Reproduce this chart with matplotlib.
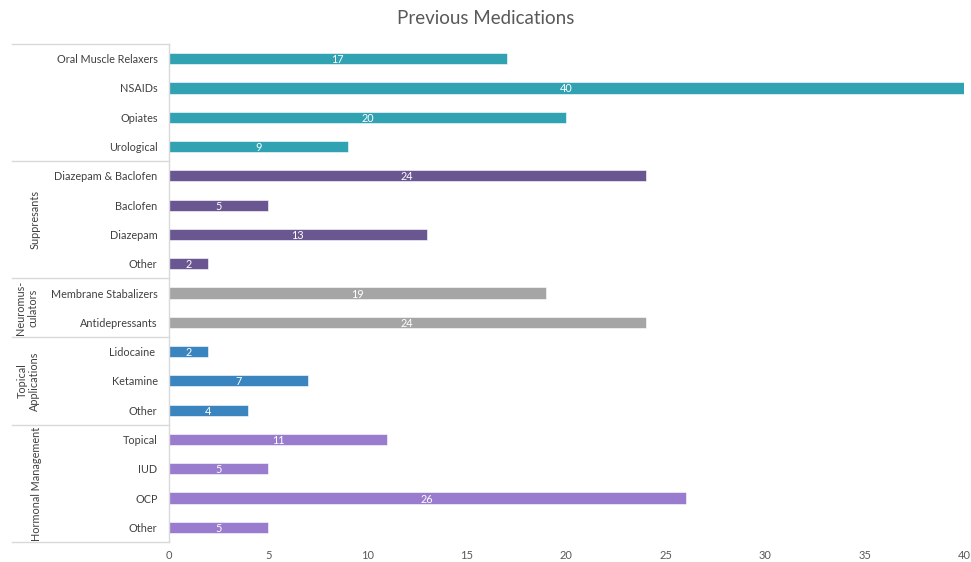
import matplotlib
matplotlib.use("Agg")
import matplotlib.pyplot as plt
import matplotlib.transforms as mtransforms

plt.rcParams['font.family'] = ['Lato', 'DejaVu Sans']

# ---- data ----
categories = ["Oral Muscle Relaxers", "NSAIDs", "Opiates", "Urological",
              "Diazepam & Baclofen", "Baclofen", "Diazepam", "Other",
              "Membrane Stabalizers", "Antidepressants",
              "Lidocaine ", "Ketamine", "Other",
              "Topical", "IUD", "OCP", "Other"]
values = [17, 40, 20, 9,
          24, 5, 13, 2,
          19, 24,
          2, 7, 4,
          11, 5, 26, 5]
group_names = ["", "Suppresants", "Neuromus-\nculators", "Topical\nApplications", "Hormonal Management"]
group_sizes = [4, 4, 2, 3, 4]
group_colors = ["#30A2B2", "#6A5690", "#A5A5A5", "#3A85BF", "#9A7CCF"]
x_ticks = [0, 5, 10, 15, 20, 25, 30, 35, 40]

W, H = 971, 562
fig = plt.figure(figsize=(W / 100, H / 100), dpi=100)
ax = fig.add_axes([168.7 / W, 1 - 542 / H, (964 - 168.7) / W, (542 - 44) / H])

colors = []
for c, n in zip(group_colors, group_sizes):
    colors += [c] * n

ypos = list(range(len(categories)))
bars = ax.barh(ypos, values, height=0.38, color=colors, edgecolor="white", linewidth=0.4)
for b, v in zip(bars, values):
    ax.text(v / 2, b.get_y() + b.get_height() / 2, str(v), ha="center", va="center_baseline",
            color="white", fontsize=7.8)

ax.set_ylim(len(categories) - 0.5, -0.5)
ax.set_xlim(0, 40)
ax.set_yticks(ypos)
ax.set_yticklabels(categories, fontsize=7.8, color="#404040")
ax.set_xticks(x_ticks)
ax.set_xticklabels([str(t) for t in x_ticks], fontsize=8, color="#595959")
ax.tick_params(axis="both", length=0)
ax.tick_params(axis="y", pad=8)
ax.tick_params(axis="x", pad=5.5)
for s in ax.spines.values():
    s.set_visible(False)

line_col = "#D9D9D9"
trans = mtransforms.blended_transform_factory(fig.transFigure, ax.transData)
x0 = 12 / W
x1 = 168.7 / W
# vertical axis line
ax.plot([0, 0], [-0.5, len(categories) - 0.5], color=line_col, lw=1, clip_on=False)
# group separators
bounds = [-0.5]
acc = -0.5
for n in group_sizes:
    acc += n
    bounds.append(acc)
for yb in bounds:
    ax.plot([x0, x1], [yb, yb], color=line_col, lw=1, transform=trans, clip_on=False)

# group labels
label_x = {"Suppresants": 35, "Neuromus-\nculators": 27, "Topical\nApplications": 28,
           "Hormonal Management": 36}
start = 0
for name, n in zip(group_names, group_sizes):
    if name:
        yc = start + (n - 1) / 2
        ax.text(label_x[name] / W, yc, name, transform=trans, rotation=90,
                ha="center", va="center", multialignment="center",
                fontsize=7.8, color="#404040", linespacing=1.15)
    start += n

fig.text(0.5, 1 - 19 / H, "Previous Medications", ha="center", va="center",
         fontsize=13.5, color="#595959")

fig.savefig("out.png", dpi=100)
